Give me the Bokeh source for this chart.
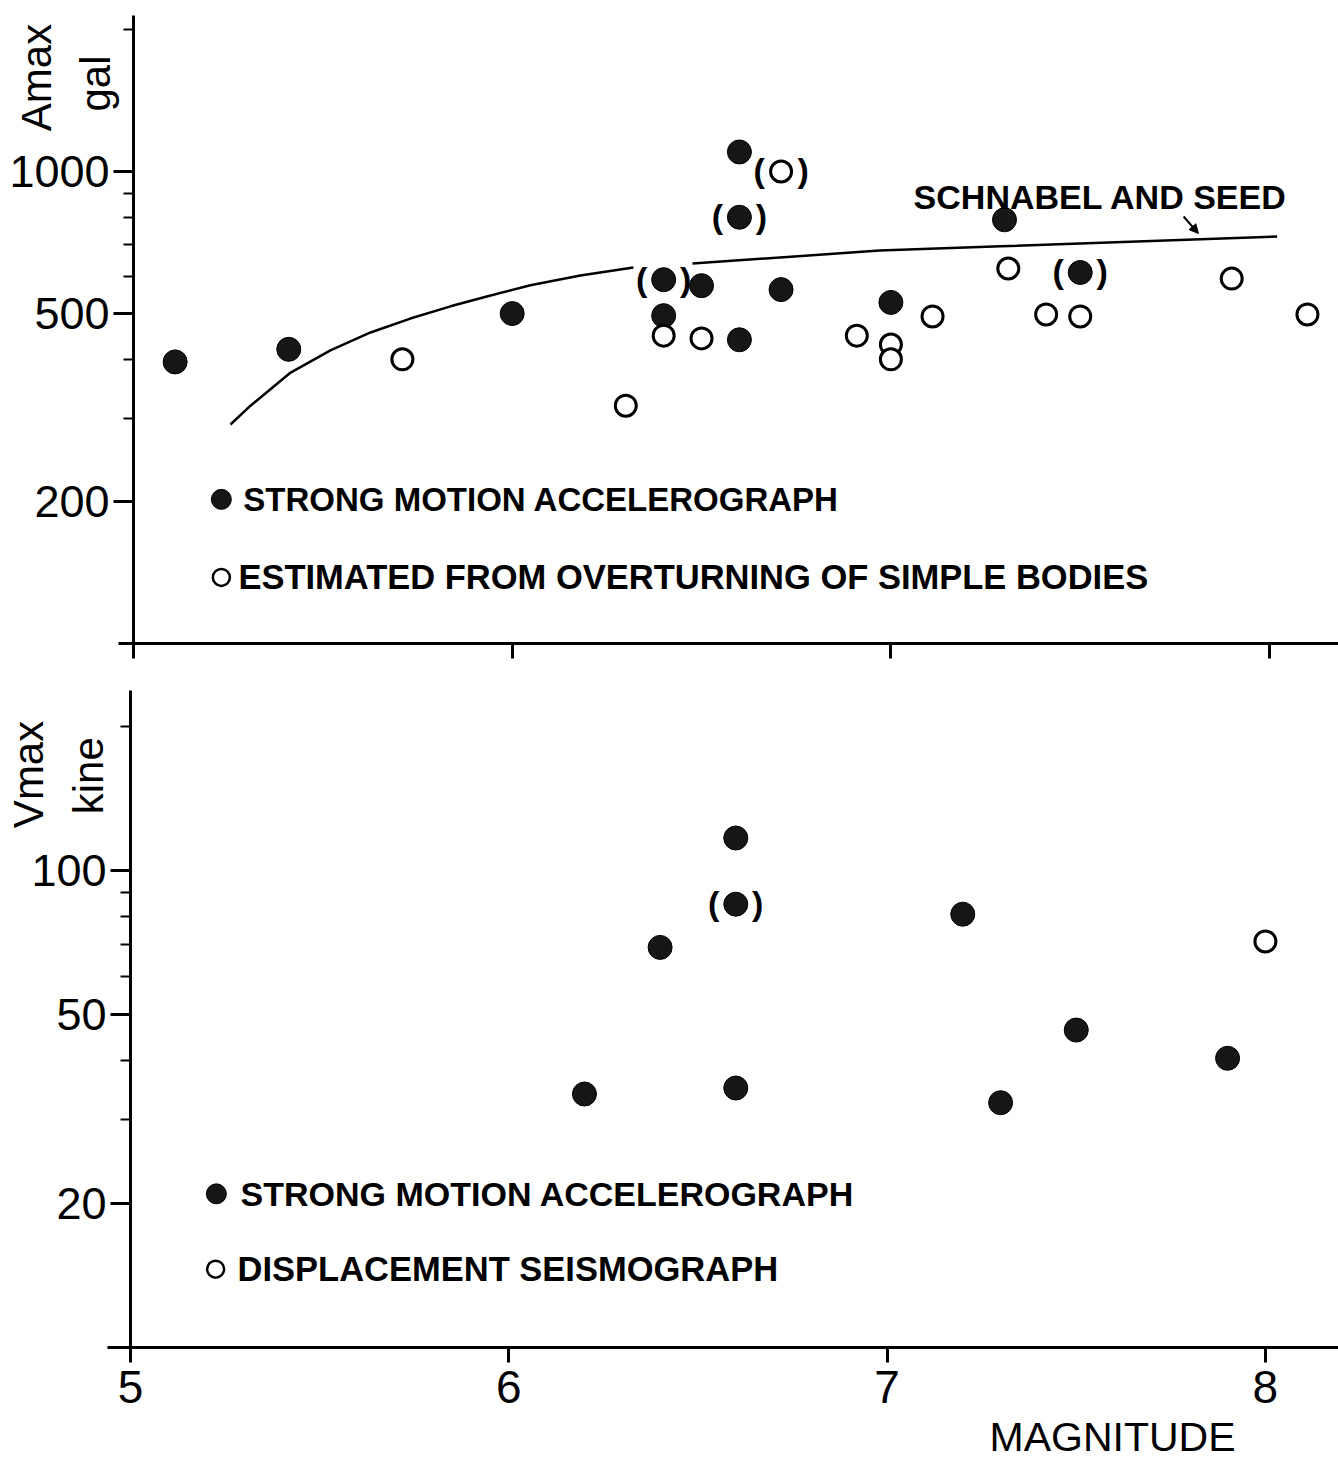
import numpy as np
from bokeh.plotting import figure
from bokeh.layouts import column
from bokeh.models import (FixedTicker, Range1d, Label, Arrow, NormalHead,
                          PrintfTickFormatter)
from bokeh.embed import file_html
from bokeh.resources import INLINE
from bokeh.core.properties import value

# ---------------- data: top panel (Amax, gal) ----------------
acc_mag   = [5.11, 5.41, 6.00, 6.60, 6.60, 6.40, 6.40, 6.50, 6.60, 6.71, 7.00, 7.30, 7.50]
acc_amax  = [395, 420, 500, 1100, 800, 590, 495, 573, 440, 562, 528, 790, 611]
acc_paren = [0, 0, 0, 0, 1, 1, 0, 0, 0, 0, 0, 0, 1]

ovt_mag   = [5.71, 6.30, 6.40, 6.50, 6.71, 6.91, 7.00, 7.00, 7.11, 7.31, 7.41, 7.50, 7.90, 8.10]
ovt_amax  = [400, 319, 449, 443, 1000, 449, 430, 400, 493, 623, 498, 493, 593, 498]
ovt_paren = [0, 0, 0, 0, 1, 0, 0, 0, 0, 0, 0, 0, 0, 0]

# Schnabel and Seed curve (two drawn segments)
ss1_mag  = [5.256, 5.309, 5.415, 5.520, 5.626, 5.731, 5.837, 5.943, 6.048, 6.180, 6.320]
ss1_amax = [291, 319, 375, 418, 456, 488, 518, 546, 574, 602, 626]
ss2_mag  = [6.476, 6.97, 7.29, 8.02]
ss2_amax = [638, 680, 694, 728]

# ---------------- data: bottom panel (Vmax, kine) ----------------
vacc_mag   = [6.60, 6.60, 6.40, 7.20, 6.20, 6.60, 7.30, 7.50, 7.90]
vacc_vmax  = [117, 85, 69, 81, 34, 35, 32.6, 46.3, 40.4]
vacc_paren = [0, 1, 0, 0, 0, 0, 0, 0, 0]

vdisp_mag  = [8.00]
vdisp_vmax = [71]

x_ticks = [5, 6, 7, 8]
top_major = [200, 500, 1000]
top_minor = [300, 400, 600, 700, 800, 900, 2000]
bot_major = [20, 50, 100]
bot_minor = [30, 40, 60, 70, 80, 90, 200]

FONT = "Liberation Sans"
W = 1338


def base_fig(height, x_rng, y_rng, y_bounds, x_bounds, ymaj, ymin, xlabels):
    p = figure(width=W, height=height, x_range=Range1d(*x_rng),
               y_range=Range1d(*y_rng), y_axis_type="log",
               output_backend="svg", toolbar_location=None,
               min_border_left=0, min_border_right=0,
               min_border_top=0, min_border_bottom=0)
    p.outline_line_color = None
    p.grid.visible = False
    p.background_fill_color = "white"
    p.border_fill_color = "white"
    yax = p.yaxis[0]
    yax.fixed_location = 5
    yax.bounds = y_bounds
    yax.ticker = FixedTicker(ticks=ymaj, minor_ticks=ymin)
    yax.formatter = PrintfTickFormatter(format="%d")
    yax.axis_line_width = 3
    yax.major_tick_line_width = 3
    yax.minor_tick_line_width = 2
    yax.major_tick_in = 0
    yax.major_tick_out = 20
    yax.minor_tick_in = 0
    yax.minor_tick_out = 10
    yax.major_label_standoff = 4
    yax.major_label_text_font = FONT
    yax.major_label_text_font_size = "45px"
    yax.major_label_text_color = "black"
    xax = p.xaxis[0]
    xax.fixed_location = y_bounds[0]
    xax.bounds = x_bounds
    if xlabels:
        xax.ticker = FixedTicker(ticks=x_ticks, minor_ticks=[])
    else:
        xax.ticker = FixedTicker(ticks=[], minor_ticks=x_ticks)
    xax.axis_line_width = 3
    xax.major_tick_line_width = 3
    xax.minor_tick_line_width = 3
    xax.major_tick_in = 0
    xax.major_tick_out = 15
    xax.minor_tick_in = 0
    xax.minor_tick_out = 15
    xax.major_label_text_font = FONT
    xax.major_label_text_font_size = "46px"
    xax.major_label_text_color = "black"
    xax.major_label_standoff = 8
    return p


def add_label(p, x, y, text, size, bold=False, angle=0.0, align="left"):
    p.add_layout(Label(x=x, y=y, text=text, text_font=FONT, text_font_size=size,
                       text_font_style="bold" if bold else "normal",
                       text_color="black", angle=angle, text_align=align,
                       text_baseline="middle"))


def add_parens(p, xs, ys, flags):
    px = [x for x, f in zip(xs, flags) if f]
    py = [y for y, f in zip(ys, flags) if f]
    for txt, off in (("(", -22), (")", 22)):
        p.text(x=px, y=py, text=[txt] * len(px), x_offset=off, y_offset=-1,
               text_font=value(FONT), text_font_size="34px", text_font_style="bold",
               text_align="center", text_baseline="middle", text_color="black")


# ================= top panel =================
p1 = base_fig(672, (4.6488, 8.1820), (86.8, 2303), (100, 2140), (4.96, 8.182),
              top_major, top_minor, False)

p1.line(ss1_mag, ss1_amax, line_color="black", line_width=2.5)
p1.line(ss2_mag, ss2_amax, line_color="black", line_width=2.5)

p1.scatter(acc_mag, acc_amax, size=24, fill_color="#161616", line_color="black", line_width=1)
p1.scatter(ovt_mag, ovt_amax, size=21, fill_color="white", line_color="black", line_width=3)
add_parens(p1, acc_mag, acc_amax, acc_paren)
add_parens(p1, ovt_mag, ovt_amax, ovt_paren)

add_label(p1, 7.06, 881, "SCHNABEL AND SEED", "34px", bold=True)
p1.add_layout(Arrow(end=NormalHead(size=9, fill_color="black", line_color="black"),
                    x_start=7.773, y_start=803, x_end=7.812, y_end=739,
                    line_width=2, line_color="black"))

# legend
p1.scatter([5.232], [202], size=20, fill_color="#161616", line_color="black")
p1.scatter([5.232], [138], size=17, fill_color="white", line_color="black", line_width=2.5)
add_label(p1, 5.290, 202, "STRONG MOTION ACCELEROGRAPH", "33px", bold=True)
add_label(p1, 5.277, 138, "ESTIMATED FROM OVERTURNING OF SIMPLE BODIES", "34.5px", bold=True)

# axis title
add_label(p1, 4.7439, 1582, "Amax", "42px", angle=np.pi / 2, align="center")
add_label(p1, 4.8997, 1536, "gal", "42px", angle=np.pi / 2, align="center")

# ================= bottom panel =================
p2 = base_fig(792, (4.6564, 8.1932), (5.686, 260.1), (10, 238), (4.94, 8.1932),
              bot_major, bot_minor, True)

p2.scatter(vacc_mag, vacc_vmax, size=24, fill_color="#161616", line_color="black", line_width=1)
p2.scatter(vdisp_mag, vdisp_vmax, size=21, fill_color="white", line_color="black", line_width=3)
add_parens(p2, vacc_mag, vacc_vmax, vacc_paren)

p2.scatter([5.227], [21.0], size=20, fill_color="#161616", line_color="black")
p2.scatter([5.225], [14.6], size=17, fill_color="white", line_color="black", line_width=2.5)
add_label(p2, 5.291, 21.0, "STRONG MOTION ACCELEROGRAPH", "34px", bold=True)
add_label(p2, 5.283, 14.6, "DISPLACEMENT  SEISMOGRAPH", "34.5px", bold=True)

add_label(p2, 4.7304, 159, "Vmax", "42px", angle=np.pi / 2, align="center")
add_label(p2, 4.889, 158, "kine", "42px", angle=np.pi / 2, align="center")
add_label(p2, 7.596, 6.50, "MAGNITUDE", "41px", align="center")

layout = column(p1, p2, spacing=0)
open("out.html", "w").write(file_html(layout, INLINE))
